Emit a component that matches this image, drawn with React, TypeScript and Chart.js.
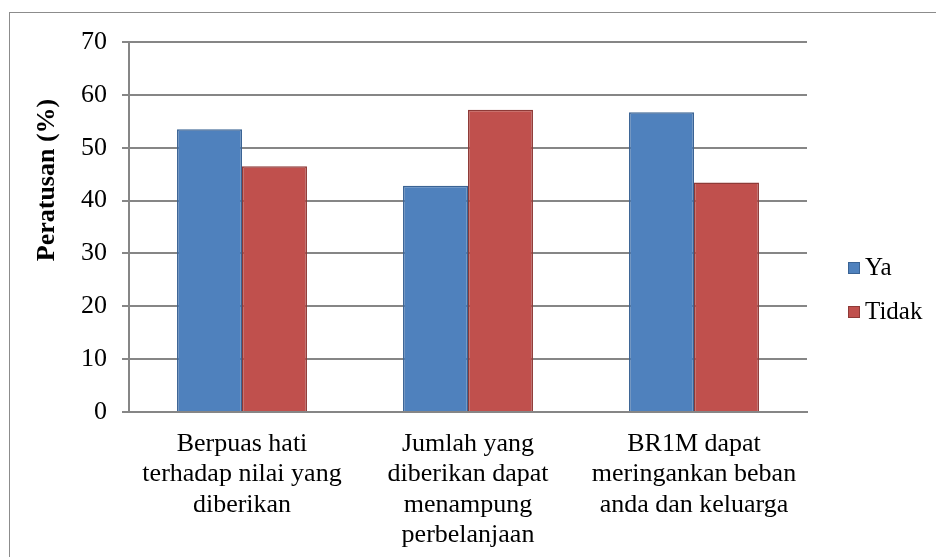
import React, { useEffect, useRef } from "react";
import { Chart, registerables } from "chart.js";

Chart.register(...registerables);

const categories: string[][] = [
  ["Berpuas hati", "terhadap nilai yang", "diberikan"],
  ["Jumlah yang", "diberikan dapat", "menampung", "perbelanjaan"],
  ["BR1M dapat", "meringankan beban", "anda dan keluarga"],
];
const seriesNames = ["Ya", "Tidak"];
const yaValues = [53.5, 42.8, 56.7];
const tidakValues = [46.5, 57.2, 43.4];
const yTitle = "Peratusan (%)";

const FONT = "'Liberation Serif', 'Times New Roman', serif";

const decorPlugin = {
  id: "decor",
  beforeDraw(chart: any) {
    const ctx = chart.ctx;
    ctx.save();
    ctx.fillStyle = "#ffffff";
    ctx.fillRect(0, 0, chart.width, chart.height);
    ctx.strokeStyle = "#8c8c8c";
    ctx.lineWidth = 1;
    ctx.strokeRect(9.5, 12.5, chart.width + 10, chart.height + 10);
    ctx.restore();
  },
  afterDraw(chart: any) {
    const ctx = chart.ctx;
    ctx.save();
    // y-axis title
    ctx.translate(47, 180);
    ctx.rotate(-Math.PI / 2);
    ctx.font = `bold 26px ${FONT}`;
    ctx.fillStyle = "#000";
    ctx.textAlign = "center";
    ctx.textBaseline = "middle";
    ctx.fillText(yTitle, 0, 0);
    ctx.restore();
    // legend
    ctx.save();
    ctx.font = `25px ${FONT}`;
    ctx.textBaseline = "middle";
    ctx.textAlign = "left";
    chart.data.datasets.forEach((ds: any, i: number) => {
      const cy = 268 + i * 44;
      ctx.fillStyle = ds.backgroundColor;
      ctx.fillRect(848, cy - 6, 12, 12);
      ctx.strokeStyle = ds.borderColor;
      ctx.lineWidth = 1;
      ctx.strokeRect(848.5, cy - 5.5, 11, 11);
      ctx.fillStyle = "#000";
      ctx.fillText(ds.label, 865, cy);
    });
    ctx.restore();
  },
};

export default function App() {
  const ref = useRef<HTMLCanvasElement | null>(null);
  useEffect(() => {
    if (!ref.current) return;
    const chart = new Chart(ref.current, {
      type: "bar",
      data: {
        labels: categories,
        datasets: [
          {
            label: seriesNames[0],
            data: yaValues,
            backgroundColor: "#4F81BD",
            borderColor: "#3A6394",
            borderWidth: 1.5,
          },
          {
            label: seriesNames[1],
            data: tidakValues,
            backgroundColor: "#C0504D",
            borderColor: "#8E3A37",
            borderWidth: 1.5,
          },
        ],
      },
      options: {
        animation: false,
        responsive: false,
        maintainAspectRatio: false,
        devicePixelRatio: 1,
        layout: { padding: { left: 0, right: 129, top: 42, bottom: 0 } },
        datasets: { bar: { categoryPercentage: 0.575, barPercentage: 1 } },
        plugins: {
          legend: { display: false },
          tooltip: { enabled: false },
        },
        scales: {
          x: {
            grid: { display: false },
            border: { display: true, color: "#868686", width: 2 },
            ticks: {
              color: "#000",
              font: { family: FONT, size: 26, lineHeight: 1.17 },
              padding: 9,
              maxRotation: 0,
              autoSkip: false,
            },
            afterFit: (s: any) => {
              s.height = 145;
            },
          },
          y: {
            min: 0,
            max: 70,
            ticks: {
              stepSize: 10,
              color: "#000",
              font: { family: FONT, size: 26 },
              padding: 15,
            },
            grid: { color: "#868686", lineWidth: 2, tickLength: 7 },
            border: { display: true, color: "#868686", width: 2 },
            afterFit: (s: any) => {
              s.width = 129;
            },
          },
        },
      },
      plugins: [decorPlugin],
    });
    return () => chart.destroy();
  }, []);
  return (
    <div style={{ position: "absolute", left: 0, top: 0, width: 936, height: 557 }}>
      <canvas ref={ref} width={936} height={557} style={{ display: "block" }} />
    </div>
  );
}
